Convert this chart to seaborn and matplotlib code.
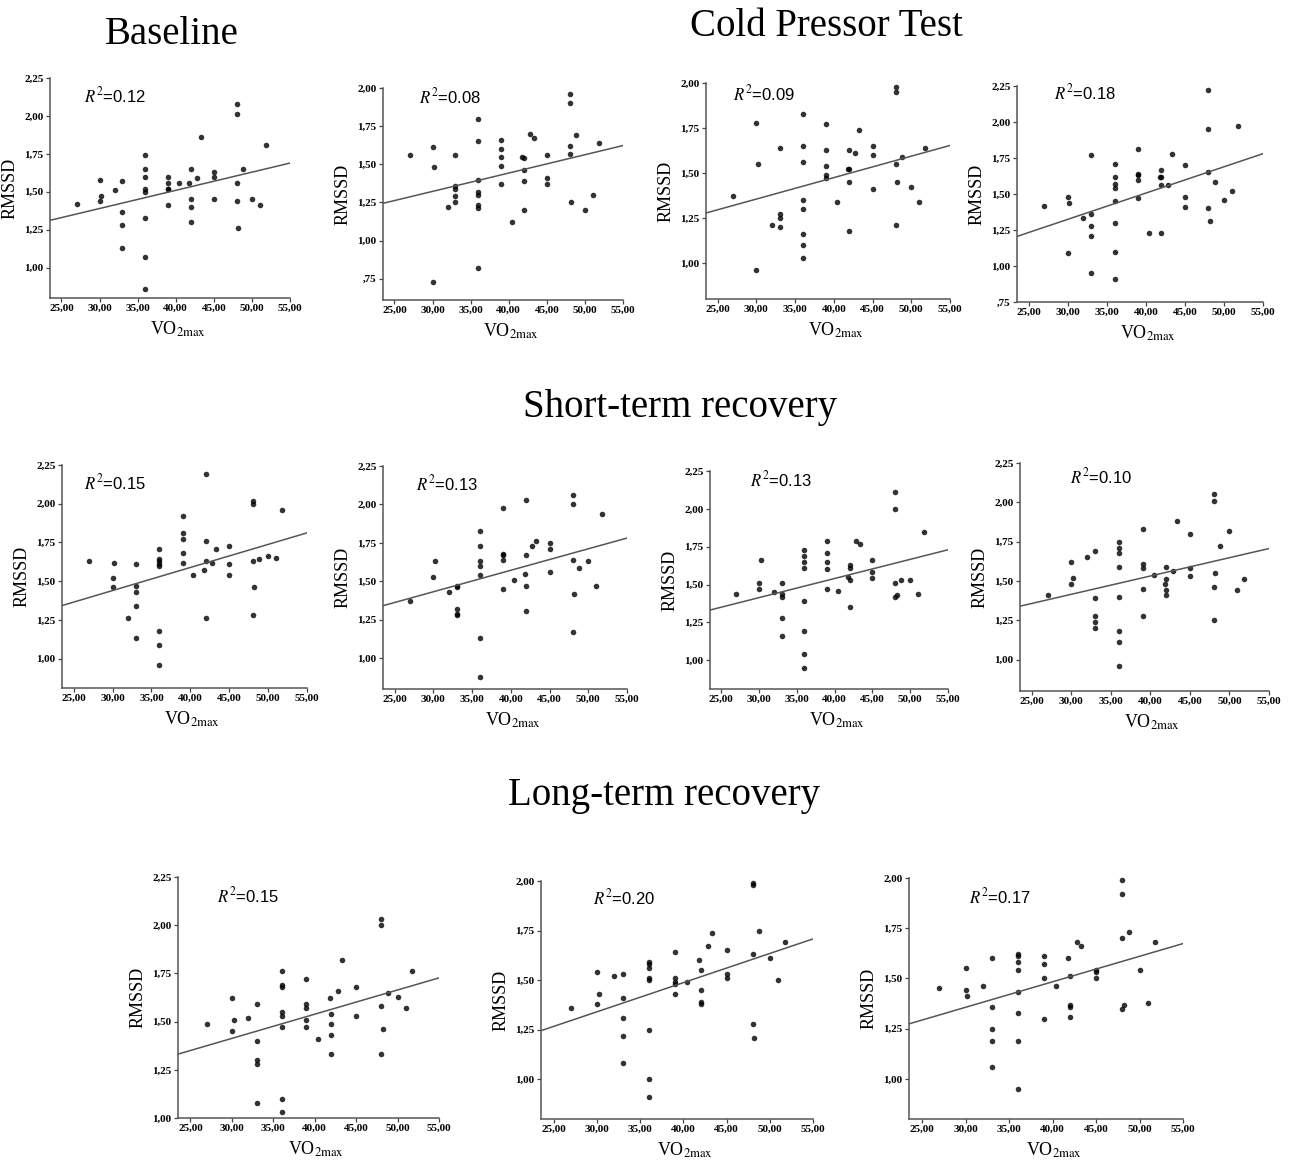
import matplotlib
matplotlib.use("Agg")
import matplotlib.pyplot as plt
import matplotlib.ticker as ticker
import seaborn as sns

sns.set_style("white")
plt.rcParams['font.family'] = ['Liberation Serif', 'DejaVu Serif']
plt.rcParams['mathtext.fontset'] = 'stix'
plt.rcParams['text.color'] = 'black'
plt.rcParams['axes.labelcolor'] = 'black'
plt.rcParams['xtick.color'] = 'black'
plt.rcParams['ytick.color'] = 'black'

# ---- data (VO2max vs RMSSD) ----
base_x = [27, 30, 30, 30.2, 32, 33, 33, 33, 33, 36, 36, 36, 36, 36, 36, 36, 36, 39, 39, 39, 39, 39,
          40.4, 41.8, 42, 42, 42, 42, 42.8, 43.3, 45, 45, 45, 48, 48, 48, 48, 48.2, 48.8, 50, 51, 51.8]
base_y = [1.42, 1.58, 1.44, 1.47, 1.51, 1.57, 1.37, 1.28, 1.13, 1.74, 1.65, 1.60, 1.52, 1.50, 1.33, 1.07, 0.86,
          1.60, 1.56, 1.52, 1.52, 1.41, 1.56, 1.56, 1.65, 1.45, 1.40, 1.30, 1.59, 1.86, 1.63, 1.60, 1.45,
          2.08, 2.01, 1.56, 1.44, 1.26, 1.65, 1.45, 1.41, 1.81]

cpt1_x = [27, 30, 30.2, 30, 32, 33, 33, 33, 33, 33, 36, 36, 36, 36, 36, 36, 36, 36, 39, 39, 39, 39, 39,
          40.4, 41.8, 42, 42, 42, 42, 42.8, 43.3, 45, 45, 45, 48, 48, 48, 48, 48.2, 48.8, 50, 51, 51.8]
cpt1_y = [1.56, 1.61, 1.48, 0.73, 1.22, 1.56, 1.36, 1.34, 1.29, 1.25, 1.80, 1.65, 1.40, 1.32, 1.30, 1.23, 1.21, 0.82,
          1.66, 1.60, 1.55, 1.49, 1.37, 1.12, 1.55, 1.54, 1.46, 1.39, 1.20, 1.70, 1.67, 1.56, 1.41, 1.37,
          1.96, 1.90, 1.62, 1.57, 1.25, 1.69, 1.20, 1.30, 1.64]

cpt2_x = [27, 30, 30.2, 30, 32, 33, 33, 33, 33, 36, 36, 36, 36, 36, 36, 36, 36, 39, 39, 39, 39, 39,
          40.4, 41.8, 42, 42, 42, 42, 42.8, 43.3, 45, 45, 45, 48, 48, 48, 48, 48.2, 48.8, 50, 51, 51.8]
cpt2_y = [1.37, 1.78, 1.55, 0.96, 1.21, 1.64, 1.27, 1.25, 1.20, 1.83, 1.65, 1.56, 1.35, 1.30, 1.16, 1.10, 1.03,
          1.77, 1.63, 1.54, 1.49, 1.47, 1.34, 1.52, 1.63, 1.52, 1.45, 1.18, 1.61, 1.74, 1.65, 1.60, 1.41,
          1.98, 1.95, 1.55, 1.21, 1.45, 1.59, 1.42, 1.34, 1.64]

cpt3_x = [27, 30, 30.2, 30, 32, 33, 33, 33, 33, 33, 36, 36, 36, 36, 36, 36, 36, 36, 39, 39, 39, 39, 39,
          40.4, 41.8, 42, 42, 42, 42, 42.8, 43.3, 45, 45, 45, 48, 48, 48, 48, 48.2, 48.8, 50, 51, 51.8]
cpt3_y = [1.42, 1.48, 1.44, 1.09, 1.33, 1.77, 1.36, 1.28, 1.21, 0.95, 1.71, 1.62, 1.57, 1.54, 1.45, 1.30, 1.10, 0.91,
          1.81, 1.64, 1.63, 1.60, 1.47, 1.23, 1.62, 1.67, 1.62, 1.56, 1.23, 1.56, 1.78, 1.70, 1.48, 1.41,
          2.22, 1.95, 1.65, 1.40, 1.31, 1.58, 1.46, 1.52, 1.97]

str1_x = [27, 30, 30, 30.2, 32, 33, 33, 33, 33, 33, 36, 36, 36, 36, 36, 36, 36, 36, 39, 39, 39, 39, 39,
          40.4, 41.8, 42, 42, 42, 42, 42.8, 43.3, 45, 45, 45, 48, 48, 48, 48, 48.2, 48.8, 50, 51, 51.8]
str1_y = [1.63, 1.52, 1.46, 1.62, 1.26, 1.61, 1.47, 1.43, 1.34, 1.13, 1.71, 1.64, 1.63, 1.61, 1.60, 1.18, 1.09, 0.96,
          1.92, 1.81, 1.77, 1.68, 1.62, 1.54, 1.57, 2.19, 1.76, 1.63, 1.26, 1.62, 1.71, 1.73, 1.61, 1.54,
          2.02, 2.00, 1.63, 1.28, 1.46, 1.64, 1.66, 1.65, 1.96]

str2_x = [27, 30, 30.2, 32, 33, 33, 33, 33, 33, 36, 36, 36, 36, 36, 36, 36, 39, 39, 39, 39, 39,
          40.4, 41.8, 42, 42, 42, 42, 42.8, 43.3, 45, 45, 45, 48, 48, 48, 48, 48.2, 48.8, 50, 51, 51.8]
str2_y = [1.37, 1.53, 1.63, 1.43, 1.47, 1.46, 1.32, 1.29, 1.28, 1.83, 1.73, 1.63, 1.60, 1.54, 1.13, 0.88,
          1.98, 1.68, 1.67, 1.64, 1.45, 1.51, 1.55, 2.03, 1.67, 1.47, 1.31, 1.73, 1.76, 1.75, 1.71, 1.56,
          2.06, 2.00, 1.64, 1.17, 1.42, 1.59, 1.63, 1.47, 1.94]

str3_x = [27, 30, 30, 30.2, 32, 33, 33, 33, 33, 33, 36, 36, 36, 36, 36, 36, 36, 36, 39, 39, 39, 39, 39,
          40.4, 41.8, 42, 42, 42, 42, 42.8, 43.3, 45, 45, 45, 48, 48, 48, 48, 48.2, 48.8, 50, 51, 51.8]
str3_y = [1.44, 1.51, 1.47, 1.66, 1.45, 1.51, 1.44, 1.42, 1.28, 1.16, 1.73, 1.69, 1.65, 1.61, 1.39, 1.19, 1.04, 0.95,
          1.79, 1.71, 1.65, 1.60, 1.47, 1.46, 1.55, 1.63, 1.61, 1.53, 1.35, 1.79, 1.77, 1.66, 1.58, 1.54,
          2.11, 2.00, 1.51, 1.42, 1.43, 1.53, 1.53, 1.44, 1.85]

str4_x = [27, 30, 30, 30.2, 32, 33, 33, 33, 33, 33, 36, 36, 36, 36, 36, 36, 36, 36, 39, 39, 39, 39, 39,
          40.4, 41.8, 42, 42, 42, 42, 42.8, 43.3, 45, 45, 45, 48, 48, 48, 48, 48.2, 48.8, 50, 51, 51.8]
str4_y = [1.41, 1.62, 1.48, 1.52, 1.65, 1.69, 1.39, 1.28, 1.24, 1.20, 1.75, 1.71, 1.68, 1.59, 1.40, 1.18, 1.11, 0.96,
          1.83, 1.61, 1.58, 1.45, 1.28, 1.54, 1.48, 1.59, 1.51, 1.44, 1.41, 1.56, 1.88, 1.80, 1.58, 1.53,
          2.05, 2.01, 1.46, 1.25, 1.55, 1.72, 1.82, 1.44, 1.51]

ltr1_x = [27, 30, 30, 30.2, 32, 33, 33, 33, 33, 33, 36, 36, 36, 36, 36, 36, 36, 36, 39, 39, 39, 39, 39,
          40.4, 41.8, 42, 42, 42, 42, 42.8, 43.3, 45, 45, 48, 48, 48, 48, 48.2, 48.8, 50, 51, 51.8]
ltr1_y = [1.49, 1.62, 1.45, 1.51, 1.52, 1.59, 1.40, 1.30, 1.28, 1.08, 1.76, 1.69, 1.68, 1.55, 1.53, 1.47, 1.10, 1.03,
          1.72, 1.59, 1.57, 1.51, 1.47, 1.41, 1.62, 1.54, 1.49, 1.43, 1.33, 1.66, 1.82, 1.68, 1.53,
          2.03, 2.00, 1.58, 1.33, 1.46, 1.65, 1.63, 1.57, 1.76]

ltr2_x = [27, 30, 30, 30.2, 32, 33, 33, 33, 33, 33, 36, 36, 36, 36, 36, 36, 36, 36, 39, 39, 39, 39, 39,
          40.4, 41.8, 42, 42, 42, 42, 42.8, 43.3, 45, 45, 45, 48, 48, 48, 48, 48.2, 48.8, 50, 51, 51.8]
ltr2_y = [1.36, 1.54, 1.38, 1.43, 1.52, 1.53, 1.41, 1.31, 1.22, 1.08, 1.59, 1.58, 1.56, 1.51, 1.50, 1.25, 1.00, 0.91,
          1.64, 1.51, 1.49, 1.48, 1.43, 1.49, 1.60, 1.55, 1.45, 1.39, 1.38, 1.67, 1.74, 1.65, 1.53, 1.51,
          1.99, 1.98, 1.63, 1.28, 1.21, 1.75, 1.61, 1.50, 1.69]

ltr3_x = [27, 30, 30, 30.2, 32, 33, 33, 33, 33, 33, 36, 36, 36, 36, 36, 36, 36, 36, 39, 39, 39, 39,
          40.4, 41.8, 42, 42, 42, 42, 42.8, 43.3, 45, 45, 45, 48, 48, 48, 48, 48.2, 48.8, 50, 51, 51.8]
ltr3_y = [1.45, 1.55, 1.44, 1.41, 1.46, 1.60, 1.36, 1.25, 1.19, 1.06, 1.62, 1.61, 1.58, 1.54, 1.43, 1.33, 1.19, 0.95,
          1.61, 1.57, 1.50, 1.30, 1.46, 1.60, 1.51, 1.37, 1.36, 1.31, 1.68, 1.66, 1.54, 1.53, 1.50,
          1.99, 1.92, 1.70, 1.35, 1.37, 1.73, 1.54, 1.38, 1.68]

r2_labels = ["0.12", "0.08", "0.09", "0.18", "0.15", "0.13", "0.13", "0.10", "0.15", "0.20", "0.17"]
section_titles = ["Baseline", "Cold Pressor Test", "Short-term recovery", "Long-term recovery"]

series = [(base_x, base_y), (cpt1_x, cpt1_y), (cpt2_x, cpt2_y), (cpt3_x, cpt3_y),
          (str1_x, str1_y), (str2_x, str2_y), (str3_x, str3_y), (str4_x, str4_y),
          (ltr1_x, ltr1_y), (ltr2_x, ltr2_y), (ltr3_x, ltr3_y)]

# ---- layout: axes boxes in pixels (left, right, top, bottom), y-limits, R2 label position ----
W, H = 1289, 1162
boxes = [(50, 290, 78, 298), (383, 623, 88, 300), (706, 950, 83, 299), (1017, 1263, 86, 302),
         (62, 307, 465, 688), (383, 627, 466, 689), (710, 948, 471, 689), (1020, 1269, 463, 691),
         (178, 439, 877, 1118), (541, 813, 881, 1119), (909, 1183, 878, 1119)]
ylims = [(0.80, 2.25), (0.61, 2.00), (0.80, 2.00), (0.75, 2.25),
         (0.81, 2.25), (0.80, 2.25), (0.81, 2.25), (0.80, 2.25),
         (1.00, 2.25), (0.80, 2.00), (0.80, 2.00)]
r2_pos = [(0.14, 0.92), (0.15, 0.96), (0.11, 0.95), (0.15, 0.97),
          (0.09, 0.92), (0.135, 0.92), (0.17, 0.96), (0.20, 0.94),
          (0.15, 0.925), (0.19, 0.93), (0.22, 0.925)]


def spss_fmt(v, pos):
    s = "{:.2f}".format(v).replace(".", ",")
    if s.startswith("0,"):
        s = s[1:]
    return s


fig = plt.figure(figsize=(W / 100, H / 100), dpi=100)

for i, (xs, ys) in enumerate(series):
    l, r, t, b = boxes[i]
    ax = fig.add_axes([l / W, 1 - b / H, (r - l) / W, (b - t) / H])
    ax.set_xlim(23.5, 55)
    ax.set_ylim(*ylims[i])
    sns.regplot(x=xs, y=ys, ax=ax, ci=None, truncate=False,
                scatter_kws={'s': 16, 'color': 'black', 'linewidths': 0, 'clip_on': False},
                line_kws={'color': '#555555', 'linewidth': 1.1})
    ax.set_xlim(23.5, 55)
    ax.set_ylim(*ylims[i])
    ax.xaxis.set_major_locator(ticker.MultipleLocator(5))
    ax.yaxis.set_major_locator(ticker.MultipleLocator(0.25))
    ax.xaxis.set_major_formatter(ticker.FuncFormatter(spss_fmt))
    ax.yaxis.set_major_formatter(ticker.FuncFormatter(spss_fmt))
    ax.tick_params(axis='both', which='major', length=3, width=0.9, color='#444444',
                   labelsize=8, pad=1.5, left=True, bottom=True)
    for lab in ax.get_xticklabels() + ax.get_yticklabels():
        lab.set_fontweight('bold')
    for side in ['top', 'right']:
        ax.spines[side].set_visible(False)
    for side in ['left', 'bottom']:
        ax.spines[side].set_color('#555555')
        ax.spines[side].set_linewidth(1.1)
    wpx, hpx = r - l, b - t
    ax.set_ylabel("RMSSD", fontsize=13)
    ax.yaxis.set_label_coords(-31 / wpx, 0.5)
    ax.set_xlabel(r"VO$_{\mathrm{2max}}$", fontsize=13)
    ax.xaxis.set_label_coords(0.5 + 8 / wpx, -22 / hpx)
    ax.text(r2_pos[i][0], r2_pos[i][1], r"$R^{2}$=" + r2_labels[i], transform=ax.transAxes,
            fontsize=12, family=['Liberation Sans', 'DejaVu Sans'], va='center', ha='left')

title_xy = [(172, 35), (826, 27), (680, 408), (664, 795)]
for txt, (tx, ty) in zip(section_titles, title_xy):
    fig.text(tx / W, 1 - ty / H, txt, fontsize=28, ha='center', va='center')

fig.savefig("out.png", dpi=100)
